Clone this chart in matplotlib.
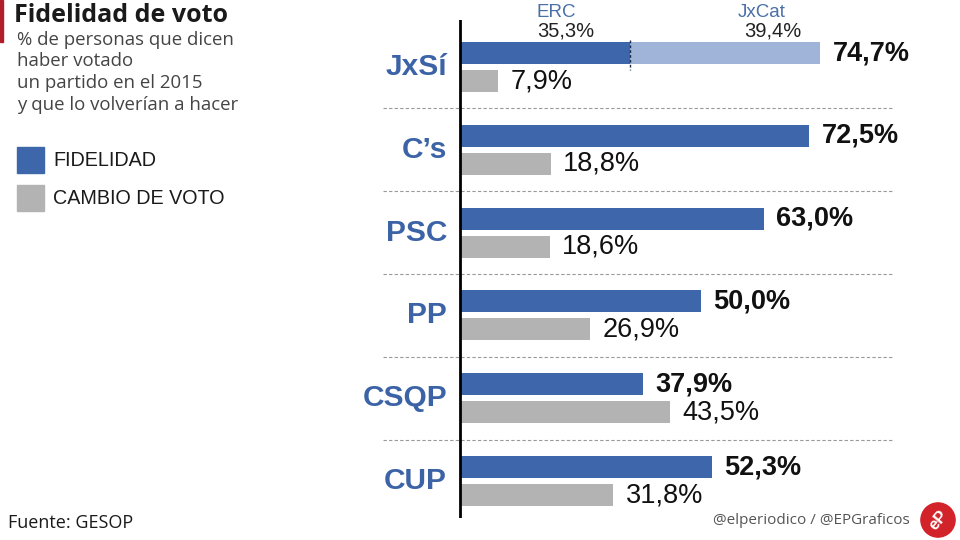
import numpy as np
import matplotlib.pyplot as plt
from matplotlib.patches import Circle, Rectangle

# Data
parties = ['JxSí', 'C’s', 'PSC', 'PP', 'CSQP', 'CUP']
fidelidad = [74.7, 72.5, 63.0, 50.0, 37.9, 52.3]
cambio = [7.9, 18.8, 18.6, 26.9, 43.5, 31.8]
erc_share = 35.3
jxcat_share = 39.4

# Colours
blue = '#3d66ab'
light_blue = '#9fb4d8'
gray = '#b3b3b3'
label_blue = '#3c63a6'

W, H = 960, 540
fig = plt.figure(figsize=(9.6, 5.4), dpi=100)
fig.patch.set_facecolor('white')

# axes placed so that 0% sits on pixel x=460, 4.82 px per %
px_per_pct = 4.82
left_px, right_px, top_px, bot_px = 383, 893, 20, 518
ax = fig.add_axes([left_px / W, 1 - bot_px / H, (right_px - left_px) / W,
                   (bot_px - top_px) / H])
group_px = 82.8
ax.set_xlim(-(460 - left_px) / px_per_pct, (right_px - 460) / px_per_pct)
ax.set_ylim((bot_px - 67) / group_px, (top_px - 67) / group_px)
ax.axis('off')

y = np.arange(len(parties))
off = 14 / group_px
bh = 22 / group_px

blue_bars = ax.barh(y - off, fidelidad, height=bh, color=blue, zorder=2)
gray_bars = ax.barh(y + off, cambio, height=bh, color=gray, zorder=2)

# JxSí split: ERC + JxCat
ax.barh(y[0] - off, jxcat_share, left=erc_share, height=bh, color=light_blue, zorder=3)
ax.plot([erc_share, erc_share], [y[0] - off - 0.16, y[0] - off + 0.2],
        color='#1f2d4d', lw=1, ls=(0, (2, 1.5)), zorder=4)

txt_font = 'Liberation Sans'
ax.text(erc_share / 2 + 2.3, -0.66, 'ERC', color='#4a70a8', fontsize=13.5,
        ha='center', va='center', family=txt_font)
ax.text(erc_share / 2 + 4.3, -0.44, '35,3%', color='#222222', fontsize=14.5,
        ha='center', va='center', family=txt_font)
ax.text(erc_share + jxcat_share / 2 + 7.5, -0.66, 'JxCat', color='#4a70a8', fontsize=13.5,
        ha='center', va='center', family=txt_font)
ax.text(erc_share + jxcat_share / 2 + 9.8, -0.44, '39,4%', color='#222222', fontsize=14.5,
        ha='center', va='center', family=txt_font)

# value labels
for i in range(len(parties)):
    ax.annotate(f'{fidelidad[i]:.1f}%'.replace('.', ','), (fidelidad[i], y[i] - off),
                xytext=(9, 0), textcoords='offset points', ha='left', va='center',
                fontsize=19.5, fontweight='bold', color='#111111', family=txt_font)
    ax.annotate(f'{cambio[i]:.1f}%'.replace('.', ','), (cambio[i], y[i] + off),
                xytext=(9, 0), textcoords='offset points', ha='left', va='center',
                fontsize=19.5, color='#111111', family=txt_font)
    ax.text(-2.7, y[i], parties[i], ha='right', va='center', fontsize=21.5,
            fontweight='bold', color=label_blue, family=txt_font)

# dashed separators between groups
for s in y[:-1] + 0.5:
    ax.axhline(s, color='#999999', lw=0.8, ls=(0, (3, 2)), zorder=1)

# vertical axis line
ax.axvline(0, color='black', lw=2, zorder=5)

# Title block
fig.add_artist(Rectangle((0, 1 - 42 / H), 3 / W, 42 / H, color='#b01e2a',
                         transform=fig.transFigure))
fig.text(14 / W, 1 - 15 / H, 'Fidelidad de voto', fontsize=18, fontweight='bold',
         family='Open Sans', color='#1a1a1a', va='center', ha='left')
sub_lines = ['% de personas que dicen', 'haber votado',
             'un partido en el 2015', 'y que lo volverían a hacer']
for k, line in enumerate(sub_lines):
    fig.text(17 / W, 1 - (40 + 21.5 * k) / H, line, fontsize=13.4, family='Open Sans',
             color='#444444', va='center', ha='left')

# Legend
for k, (lab, col) in enumerate([('FIDELIDAD', blue), ('CAMBIO DE VOTO', gray)]):
    yc = 160 + 38 * k
    fig.add_artist(Rectangle((17 / W, 1 - (yc + 13) / H), 27 / W, 26 / H, color=col,
                             transform=fig.transFigure))
    fig.text(53 / W, 1 - yc / H, lab, fontsize=14.2, family=txt_font,
             color='#1a1a1a', va='center', ha='left')

# Footer
fig.text(8 / W, 1 - 523 / H, 'Fuente: GESOP', fontsize=13, family='Open Sans',
         color='#1a1a1a', va='center', ha='left')
fig.text(910 / W, 1 - 521 / H, '@elperiodico / @EPGraficos', fontsize=11,
         family='Open Sans', color='#555555', va='center', ha='right')

# eP logo
logo_ax = fig.add_axes([920 / W, 1 - 538 / H, 36 / W, 36 / H])
logo_ax.set_xlim(-1, 1)
logo_ax.set_ylim(-1, 1)
logo_ax.set_aspect('equal')
logo_ax.axis('off')
logo_ax.add_patch(Circle((0, 0), 0.95, color='#d2232a'))
logo_ax.text(0, 0, 'eP', color='white', fontsize=12, fontweight='bold',
             ha='center', va='center', rotation=50, family=txt_font)

fig.savefig('out.png', dpi=100, facecolor='white')
